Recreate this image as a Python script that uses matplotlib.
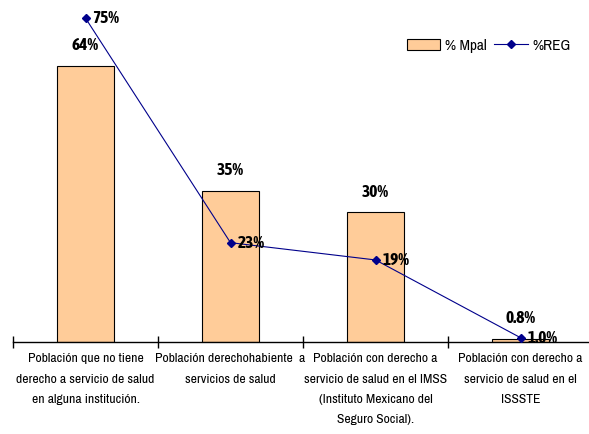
import matplotlib
matplotlib.use('Agg')
import matplotlib.pyplot as plt

categorias = ['Población que no tiene\nderecho a servicio de salud\nen alguna institución.',
              'Población derechohabiente  a\nservicios de salud',
              'Población con derecho a\nservicio de salud en el IMSS\n(Instituto Mexicano del\nSeguro Social).',
              'Población con derecho a\nservicio de salud en el\nISSSTE']
mpal = [64, 35, 30, 0.8]
reg = [75, 23, 19, 1.0]
mpal_txt = ['64%', '35%', '30%', '0.8%']
reg_txt = ['75%', '23%', '19%', '1.0%']

# fuentes estrechas parecidas a Arial Narrow
plt.rcParams['font.family'] = ['Archivo Narrow', 'DejaVu Sans']
negrita = ['Asap Condensed', 'DejaVu Sans']

fig = plt.figure(figsize=(5.89, 4.34), dpi=100)
ax = fig.add_axes([13/589, 92/434, 580/589, 339/434])

x = range(len(categorias))
barras = ax.bar(x, mpal, width=0.39, color='#FFCC99', edgecolor='black', linewidth=0.8, zorder=2)
linea, = ax.plot(x, reg, color='#00008B', linewidth=0.8, marker='D', markersize=4, zorder=3)

for i in x:
    ax.annotate(mpal_txt[i], (i, mpal[i]), xytext=(0, 9), textcoords='offset points',
                ha='center', va='bottom', fontsize=12.5, fontweight='bold', family=negrita)
    ax.annotate(reg_txt[i], (i, reg[i]), xytext=(5, 0), textcoords='offset points',
                ha='left', va='center', fontsize=12.5, fontweight='bold', family=negrita)

ax.set_xlim(-0.5, 3.5)
ax.set_ylim(0, 78.5)
ax.set_yticks([])
for s in ['left', 'right', 'top']:
    ax.spines[s].set_visible(False)
ax.spines['bottom'].set_linewidth(1)

ax.set_xticks(list(x))
ax.set_xticklabels(categorias, fontsize=9.8, linespacing=2.05)
ax.tick_params(axis='x', which='major', length=0, pad=8)
ax.set_xticks([-0.5, 0.5, 1.5, 2.5], minor=True)
ax.tick_params(axis='x', which='minor', direction='inout', length=8, width=1)

ax.legend([barras, linea], ['% Mpal', '%REG'], loc='upper right', bbox_to_anchor=(0.985, 0.935),
          ncol=2, frameon=False, fontsize=11, handlelength=2.2, columnspacing=0.5,
          handletextpad=0.3)

fig.savefig('out.png', dpi=100)
